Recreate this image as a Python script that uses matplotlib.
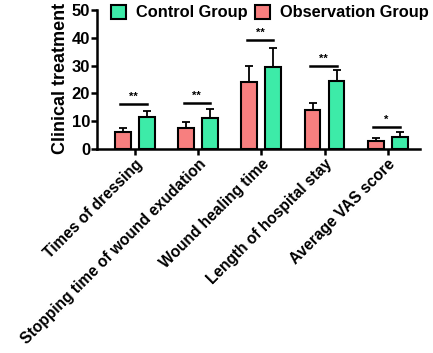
import matplotlib
matplotlib.use("Agg")
import matplotlib.pyplot as plt
import numpy as np
from matplotlib.patches import Patch

plt.rcParams['font.family'] = ['Liberation Sans', 'DejaVu Sans']
plt.rcParams['font.weight'] = 'bold'

categories = ["Times of dressing", "Stopping time of wound exudation",
              "Wound healing time", "Length of hospital stay", "Average VAS score"]
obs_mean = [6.2, 7.4, 24.2, 14.0, 3.0]
obs_err = [1.5, 2.2, 5.5, 2.7, 0.8]
ctrl_mean = [11.4, 11.0, 29.6, 24.6, 4.4]
ctrl_err = [2.1, 3.5, 6.7, 3.7, 1.6]
sig_y = [16.2, 16.4, 39.2, 30.0, 8.0]
sig_text = ["**", "**", "**", "**", "*"]

red = "#F77F7F"
green = "#3DEBA8"

fig = plt.figure(figsize=(4.33, 3.53), dpi=100)
ax = fig.add_axes([97/433, 1-149/353, (420-97)/433, (149-10)/353])

x = np.arange(len(categories))
off = 0.19
w = 0.25
ax.bar(x - off, obs_mean, w, color=red, edgecolor="black", linewidth=1.5, zorder=2)
ax.bar(x + off, ctrl_mean, w, color=green, edgecolor="black", linewidth=1.5, zorder=2)
ax.errorbar(x - off, obs_mean, yerr=[np.zeros(len(x)), obs_err], fmt="none",
            ecolor="black", elinewidth=1.3, capsize=2.8, capthick=1.3, zorder=1)
ax.errorbar(x + off, ctrl_mean, yerr=[np.zeros(len(x)), ctrl_err], fmt="none",
            ecolor="black", elinewidth=1.3, capsize=2.8, capthick=1.3, zorder=1)

for xi, yi, t in zip(x, sig_y, sig_text):
    ax.plot([xi - 0.23, xi + 0.19], [yi, yi], color="black", lw=1.8)
    ax.text(xi - 0.02, yi + 0.8, t, ha="center", va="bottom", fontsize=8, fontweight="bold")

ax.set_xlim(-0.6, 4.51)
ax.set_ylim(0, 50)
ax.set_yticks([0, 10, 20, 30, 40, 50])
ax.set_xticks(x)
ax.set_xticklabels(categories, rotation=45, ha="right", rotation_mode="anchor",
                   fontsize=11.2, fontweight="bold")
for lab in ax.get_yticklabels():
    lab.set_fontsize(12)
    lab.set_fontweight("bold")
ax.tick_params(axis="both", width=1.8, length=4, pad=1)
ax.tick_params(axis="x", pad=1.5)
for s in ["top", "right"]:
    ax.spines[s].set_visible(False)
for s in ["left", "bottom"]:
    ax.spines[s].set_linewidth(1.8)

ax.set_ylabel("Clinical treatment", fontsize=13, fontweight="bold")
ax.yaxis.set_label_coords(-0.087, 0.505)

handles = [Patch(facecolor=green, edgecolor="black", linewidth=1.5),
           Patch(facecolor=red, edgecolor="black", linewidth=1.5)]
fig.legend(handles, ["Control Group", "Observation Group"], loc="upper left",
           bbox_to_anchor=(106/433, 1.0), ncol=2, frameon=False,
           prop={"size": 11.8, "weight": "bold"}, handlelength=0.9, handleheight=0.9,
           handletextpad=0.6, columnspacing=0.5, borderpad=0.3, borderaxespad=0)

fig.savefig("out.png", dpi=100)
